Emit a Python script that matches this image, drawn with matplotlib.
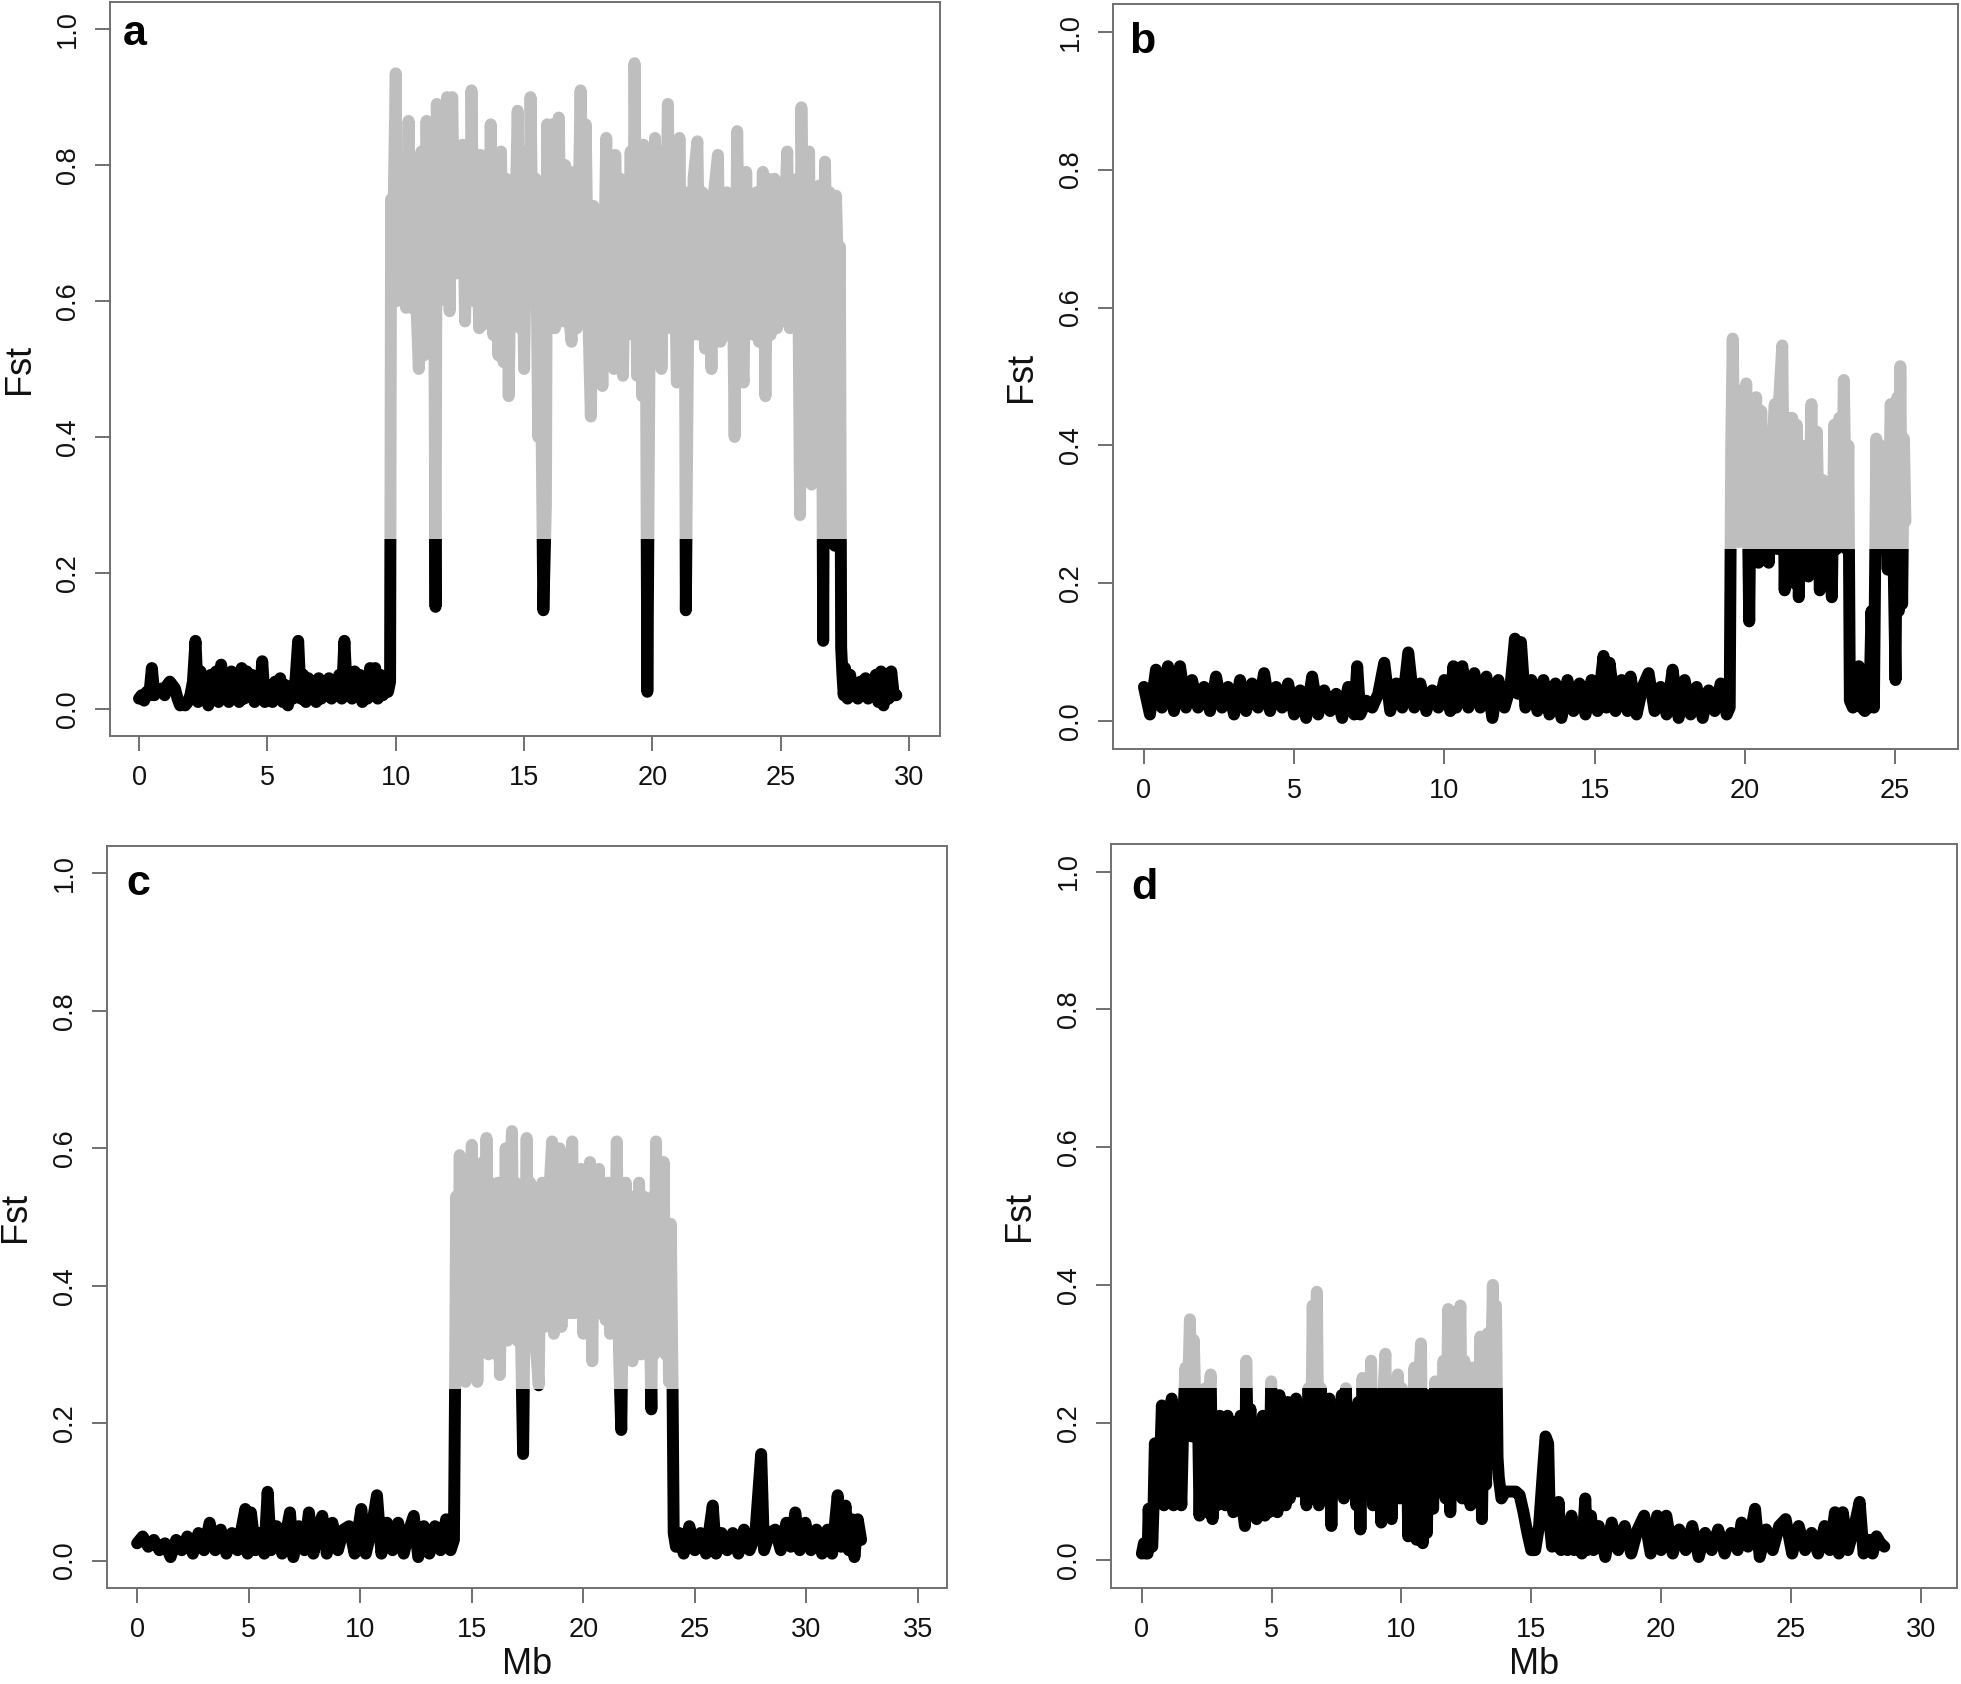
import matplotlib
matplotlib.use("Agg")
import matplotlib.pyplot as plt
from matplotlib.patches import Rectangle
from matplotlib.transforms import ScaledTranslation

plt.rcParams['font.family'] = ['Liberation Sans', 'DejaVu Sans']

# ---- panel a ----
a_low_mb = [0.0, 0.1, 0.2, 0.3, 0.4, 0.5, 0.6, 0.7, 0.8, 0.9,
            1.0, 1.1, 1.2, 1.3, 1.4, 1.5, 1.6, 1.7, 1.8, 1.9,
            2.0, 2.1, 2.2, 2.3, 2.4, 2.5, 2.6, 2.7, 2.8, 2.9,
            3.0, 3.1, 3.2, 3.3, 3.4, 3.5, 3.6, 3.7, 3.8, 3.9,
            4.0, 4.1, 4.2, 4.3, 4.4, 4.5, 4.6, 4.7, 4.8, 4.9,
            5.0, 5.1, 5.2, 5.3, 5.4, 5.5, 5.6, 5.7, 5.8, 5.9,
            6.0, 6.1, 6.2, 6.3, 6.4, 6.5, 6.6, 6.7, 6.8, 6.9,
            7.0, 7.1, 7.2, 7.3, 7.4, 7.5, 7.6, 7.7, 7.8, 7.9,
            8.0, 8.1, 8.2, 8.3, 8.4, 8.5, 8.6, 8.7, 8.8, 8.9,
            9.0, 9.1, 9.2, 9.3, 9.4, 9.5, 9.6, 9.7]
a_low_fst = [.015, .02, .012, .025, .02, .06, .02, .03, .025, .03,
             .02, .035, .04, .035, .03, .015, .005, .006, .005, .01,
             .02, .04, .10, .01, .055, .015, .045, .005, .05, .015,
             .055, .01, .065, .02, .04, .01, .055, .02, .035, .01,
             .06, .015, .055, .02, .05, .01, .04, .015, .07, .01,
             .035, .015, .01, .04, .02, .045, .01, .035, .005, .03,
             .015, .045, .10, .015, .05, .01, .045, .02, .04, .01,
             .045, .015, .04, .02, .045, .015, .04, .02, .05, .015,
             .10, .02, .045, .015, .055, .02, .05, .01, .04, .015,
             .06, .02, .06, .015, .05, .02, .04, .025]
a_high_mb = [9.78, 9.82, 9.86, 9.92, 10.0, 10.05, 10.12, 10.2, 10.3, 10.4,
             10.5, 10.6, 10.7, 10.8, 10.9, 11.0, 11.1, 11.2, 11.3, 11.4,
             11.5, 11.55, 11.6, 11.7, 11.8, 11.9, 12.0, 12.1, 12.2, 12.3,
             12.4, 12.5, 12.6, 12.7, 12.8, 12.9, 12.95, 13.05, 13.15, 13.25,
             13.3, 13.4, 13.5, 13.6, 13.7, 13.8, 13.9, 14.0, 14.1, 14.2,
             14.3, 14.4, 14.5, 14.6, 14.75, 14.85, 14.9, 15.0, 15.1, 15.2,
             15.25, 15.35, 15.45, 15.55, 15.6, 15.75, 15.85, 15.9, 16.0, 16.1,
             16.2, 16.35, 16.45, 16.5, 16.6, 16.7, 16.85, 16.95, 17.05, 17.2,
             17.3, 17.4, 17.5, 17.6, 17.7, 17.8, 17.9, 18.05, 18.2, 18.3,
             18.4, 18.5, 18.55, 18.65, 18.75, 18.85, 18.95, 19.05, 19.15, 19.25,
             19.3, 19.4, 19.5, 19.6, 19.65, 19.75, 19.8, 19.88, 19.95, 20.05,
             20.1, 20.2, 20.3, 20.35, 20.45, 20.5, 20.6, 20.7, 20.8, 20.95,
             21.05, 21.15, 21.25, 21.3, 21.38, 21.45, 21.55, 21.6, 21.75, 21.85,
             21.95, 22.05, 22.15, 22.3, 22.4, 22.55, 22.65, 22.8, 22.9, 23.0,
             23.1, 23.2, 23.3, 23.4, 23.55, 23.65, 23.75, 23.85, 23.95, 24.05,
             24.15, 24.3, 24.4, 24.5, 24.6, 24.75, 24.85, 24.95, 25.05, 25.15,
             25.25, 25.35, 25.45, 25.55, 25.65, 25.75, 25.8, 25.9, 26.0, 26.1,
             26.2, 26.3, 26.4, 26.5, 26.6, 26.65, 26.72, 26.8, 26.9, 27.0,
             27.1, 27.15, 27.25, 27.3, 27.35]
a_high_fst = [0.04, 0.75, 0.60, 0.74, 0.935, 0.60, 0.80, 0.62, 0.72, 0.59,
              0.865, 0.59, 0.78, 0.60, 0.50, 0.82, 0.52, 0.865, 0.58, 0.80,
              0.62, 0.15, 0.89, 0.60, 0.70, 0.66, 0.90, 0.585, 0.90, 0.64,
              0.82, 0.65, 0.83, 0.57, 0.80, 0.65, 0.91, 0.60, 0.75, 0.56,
              0.815, 0.565, 0.78, 0.58, 0.86, 0.55, 0.80, 0.52, 0.82, 0.51,
              0.78, 0.46, 0.74, 0.60, 0.88, 0.56, 0.82, 0.50, 0.77, 0.60,
              0.90, 0.62, 0.78, 0.40, 0.72, 0.145, 0.30, 0.86, 0.60, 0.86,
              0.56, 0.87, 0.62, 0.57, 0.80, 0.60, 0.54, 0.79, 0.56, 0.91,
              0.62, 0.86, 0.58, 0.43, 0.74, 0.52, 0.70, 0.475, 0.84, 0.55,
              0.72, 0.50, 0.815, 0.55, 0.78, 0.49, 0.73, 0.57, 0.82, 0.55,
              0.95, 0.49, 0.78, 0.46, 0.83, 0.50, 0.025, 0.49, 0.80, 0.55,
              0.84, 0.52, 0.82, 0.50, 0.78, 0.58, 0.89, 0.56, 0.82, 0.48,
              0.84, 0.50, 0.76, 0.145, 0.52, 0.76, 0.55, 0.78, 0.835, 0.55,
              0.76, 0.53, 0.72, 0.50, 0.76, 0.815, 0.54, 0.57, 0.76, 0.55,
              0.74, 0.40, 0.85, 0.55, 0.48, 0.79, 0.57, 0.74, 0.55, 0.76,
              0.54, 0.79, 0.46, 0.78, 0.55, 0.78, 0.56, 0.74, 0.57, 0.72,
              0.82, 0.56, 0.74, 0.60, 0.78, 0.285, 0.885, 0.56, 0.76, 0.82,
              0.33, 0.76, 0.56, 0.77, 0.55, 0.10, 0.805, 0.60, 0.76, 0.53,
              0.24, 0.755, 0.60, 0.68, 0.09]
a_tail_mb = [27.4, 27.45, 27.5, 27.6, 27.7, 27.8, 27.9, 28.0, 28.1, 28.2,
             28.3, 28.4, 28.5, 28.6, 28.7, 28.8, 28.9, 29.0, 29.1, 29.2,
             29.3, 29.4, 29.5]
a_tail_fst = [0.05, 0.02, 0.06, 0.015, 0.05, 0.02, 0.035, 0.015, 0.04, 0.02,
              0.045, 0.015, 0.04, 0.02, 0.05, 0.01, 0.055, 0.005, 0.05, 0.015,
              0.055, 0.02, 0.02]

# ---- panel b ----
b_low_mb = [0.0, 0.2, 0.4, 0.6, 0.8, 1.0, 1.2, 1.4, 1.6, 1.8,
            2.0, 2.2, 2.4, 2.6, 2.8, 3.0, 3.2, 3.4, 3.6, 3.8,
            4.0, 4.2, 4.4, 4.6, 4.8, 5.0, 5.2, 5.4, 5.6, 5.8,
            6.0, 6.2, 6.4, 6.6, 6.8, 7.0, 7.1, 7.2, 7.4, 7.6,
            7.8, 8.0, 8.2, 8.4, 8.6, 8.8, 9.0, 9.2, 9.4, 9.6,
            9.8, 10.0, 10.2, 10.3, 10.4, 10.6, 10.8, 11.0, 11.2, 11.4,
            11.6, 11.8, 12.0, 12.2, 12.35, 12.45, 12.55, 12.7, 12.9, 13.1,
            13.3, 13.5, 13.7, 13.9, 14.1, 14.3, 14.5, 14.7, 14.9, 15.1,
            15.3, 15.4, 15.5, 15.7, 15.9, 16.1, 16.2, 16.4, 16.6, 16.8,
            17.0, 17.2, 17.4, 17.6, 17.8, 18.0, 18.2, 18.4, 18.6, 18.8,
            19.0, 19.2, 19.4]
b_low_fst = [.05, .01, .075, .02, .08, .015, .08, .02, .06, .02,
             .05, .015, .065, .02, .05, .01, .06, .015, .055, .02,
             .07, .015, .05, .02, .055, .01, .045, .005, .065, .01,
             .045, .015, .04, .005, .05, .01, .08, .01, .03, .02,
             .04, .085, .015, .055, .02, .10, .02, .055, .015, .045,
             .02, .06, .015, .08, .02, .08, .02, .07, .02, .065,
             .005, .06, .02, .05, .12, .04, .115, .02, .06, .015,
             .06, .01, .055, .005, .06, .015, .055, .01, .06, .015,
             .095, .02, .085, .015, .06, .015, .065, .01, .05, .07,
             .015, .05, .01, .075, .005, .06, .01, .05, .005, .045,
             .015, .055, .01]
b_high_mb = [19.5, 19.55, 19.6, 19.68, 19.75, 19.82, 19.9, 19.97, 20.05, 20.15,
             20.22, 20.3, 20.38, 20.46, 20.55, 20.62, 20.7, 20.8, 20.9, 21.0,
             21.07, 21.15, 21.25, 21.33, 21.42, 21.5, 21.58, 21.66, 21.73, 21.8,
             21.88, 21.96, 22.04, 22.12, 22.22, 22.3, 22.4, 22.5, 22.6, 22.7,
             22.8, 22.9, 22.98, 23.06, 23.15, 23.22, 23.3, 23.38, 23.45, 23.5,
             23.6, 23.7, 23.8, 23.9, 24.0, 24.1, 24.15, 24.22, 24.3, 24.38,
             24.45, 24.52, 24.6, 24.68, 24.76, 24.86, 24.95, 25.02, 25.08, 25.13,
             25.18, 25.24, 25.3, 25.35]
b_high_fst = [0.02, 0.40, 0.555, 0.30, 0.48, 0.26, 0.47, 0.27, 0.49, 0.145,
              0.45, 0.25, 0.47, 0.23, 0.45, 0.25, 0.38, 0.23, 0.38, 0.46,
              0.25, 0.47, 0.545, 0.19, 0.44, 0.26, 0.44, 0.20, 0.43, 0.18,
              0.36, 0.23, 0.40, 0.21, 0.46, 0.22, 0.42, 0.19, 0.35, 0.20,
              0.34, 0.18, 0.43, 0.25, 0.44, 0.26, 0.495, 0.25, 0.40, 0.03,
              0.02, 0.03, 0.08, 0.02, 0.015, 0.07, 0.02, 0.16, 0.02, 0.41,
              0.26, 0.40, 0.25, 0.35, 0.22, 0.46, 0.25, 0.06, 0.47, 0.16,
              0.515, 0.17, 0.41, 0.29]

# ---- panel c ----
c_low_mb = [0.0, 0.25, 0.5, 0.75, 1.0, 1.25, 1.5, 1.75, 2.0, 2.25,
            2.5, 2.75, 3.0, 3.25, 3.5, 3.75, 4.0, 4.25, 4.5, 4.85,
            4.95, 5.1, 5.3, 5.5, 5.7, 5.85, 6.0, 6.25, 6.5, 6.85,
            7.0, 7.25, 7.5, 7.7, 7.9, 8.1, 8.3, 8.5, 8.75, 9.0,
            9.25, 9.5, 9.75, 10.05, 10.25, 10.5, 10.75, 10.95, 11.2, 11.45,
            11.7, 11.95, 12.2, 12.4, 12.6, 12.85, 13.1, 13.35, 13.6, 13.85,
            14.05, 14.2]
c_low_fst = [.025, .035, .02, .03, .015, .025, .005, .03, .015, .035,
             .01, .04, .015, .055, .015, .045, .01, .04, .015, .075,
             .01, .07, .015, .04, .01, .10, .015, .05, .01, .07,
             .005, .05, .015, .07, .01, .045, .065, .01, .055, .015,
             .045, .05, .01, .075, .01, .045, .095, .01, .055, .015,
             .055, .01, .045, .065, .005, .05, .01, .05, .015, .06,
             .015, .03]
c_high_mb = [14.25, 14.3, 14.38, 14.46, 14.55, 14.63, 14.72, 14.8, 14.9, 15.0,
             15.08, 15.16, 15.25, 15.34, 15.42, 15.5, 15.58, 15.66, 15.75, 15.84,
             15.92, 16.0, 16.1, 16.18, 16.26, 16.35, 16.44, 16.52, 16.6, 16.7,
             16.8, 16.88, 16.96, 17.05, 17.14, 17.22, 17.3, 17.38, 17.46, 17.54,
             17.62, 17.7, 17.8, 17.9, 18.0, 18.08, 18.16, 18.25, 18.34, 18.42,
             18.5, 18.6, 18.68, 18.76, 18.85, 18.94, 19.02, 19.1, 19.2, 19.3,
             19.4, 19.5, 19.6, 19.7, 19.8, 19.9, 20.0, 20.1, 20.2, 20.3,
             20.4, 20.5, 20.6, 20.7, 20.8, 20.9, 21.0, 21.1, 21.2, 21.3,
             21.4, 21.5, 21.6, 21.7, 21.8, 21.9, 22.0, 22.1, 22.2, 22.3,
             22.4, 22.5, 22.6, 22.7, 22.8, 22.9, 23.05, 23.12, 23.18, 23.26,
             23.32, 23.4, 23.5, 23.6, 23.68, 23.76, 23.84, 23.92, 24.0, 24.05]
c_high_fst = [0.25, 0.53, 0.30, 0.59, 0.32, 0.50, 0.26, 0.55, 0.33, 0.605,
              0.30, 0.55, 0.26, 0.52, 0.35, 0.58, 0.32, 0.615, 0.30, 0.55,
              0.34, 0.52, 0.30, 0.55, 0.27, 0.50, 0.33, 0.60, 0.32, 0.52,
              0.625, 0.33, 0.55, 0.32, 0.50, 0.30, 0.155, 0.40, 0.615, 0.31,
              0.55, 0.32, 0.50, 0.30, 0.255, 0.48, 0.55, 0.34, 0.52, 0.38,
              0.55, 0.61, 0.33, 0.58, 0.35, 0.60, 0.34, 0.55, 0.41, 0.59,
              0.36, 0.61, 0.36, 0.56, 0.40, 0.57, 0.33, 0.55, 0.38, 0.58,
              0.29, 0.55, 0.36, 0.57, 0.38, 0.50, 0.35, 0.55, 0.33, 0.52,
              0.38, 0.61, 0.30, 0.19, 0.45, 0.55, 0.33, 0.50, 0.29, 0.53,
              0.35, 0.55, 0.30, 0.53, 0.32, 0.50, 0.22, 0.53, 0.30, 0.61,
              0.32, 0.58, 0.35, 0.58, 0.30, 0.49, 0.26, 0.49, 0.25, 0.04]
c_tail_mb = [24.15, 24.3, 24.5, 24.75, 25.0, 25.25, 25.5, 25.8, 25.95, 26.2,
             26.45, 26.7, 26.95, 27.2, 27.45, 27.7, 27.97, 28.1, 28.35, 28.6,
             28.85, 29.1, 29.3, 29.5, 29.7, 29.95, 30.2, 30.45, 30.7, 30.95,
             31.15, 31.4, 31.55, 31.75, 31.9, 32.05, 32.15, 32.3, 32.45]
c_tail_fst = [.02, .04, .01, .05, .015, .04, .01, .08, .01, .04,
              .015, .04, .01, .045, .015, .035, .155, .015, .04, .045,
              .015, .055, .02, .07, .015, .055, .015, .045, .01, .045,
              .01, .095, .02, .08, .015, .06, .005, .06, .03]

# ---- panel d ----
d_head_mb = [0.0, 0.08, 0.15, 0.22, 0.26, 0.32, 0.4, 0.45, 0.5]
d_head_fst = [.01, .025, .01, .01, .075, .025, .02, .08, .17]
d_mid_mb = [0.55, 0.62, 0.7, 0.77, 0.85, 0.92, 1.0, 1.08, 1.15, 1.22,
            1.3, 1.38, 1.45, 1.52, 1.6, 1.68, 1.75, 1.85, 1.92, 2.0,
            2.08, 2.15, 2.22, 2.3, 2.38, 2.45, 2.52, 2.6, 2.65, 2.72,
            2.8, 2.9, 3.0, 3.08, 3.15, 3.22, 3.3, 3.38, 3.45, 3.52,
            3.6, 3.7, 3.8, 3.9, 3.97, 4.02, 4.1, 4.18, 4.26, 4.34,
            4.42, 4.5, 4.58, 4.66, 4.74, 4.82, 4.9, 4.98, 5.06, 5.14,
            5.22, 5.3, 5.38, 5.46, 5.54, 5.62, 5.7, 5.78, 5.86, 5.94,
            6.02, 6.1, 6.18, 6.26, 6.34, 6.42, 6.5, 6.58, 6.66, 6.74,
            6.82, 6.9, 6.98, 7.06, 7.14, 7.22, 7.3, 7.38, 7.46, 7.54,
            7.62, 7.7, 7.78, 7.86, 7.94, 8.02, 8.1, 8.18, 8.26, 8.34,
            8.42, 8.5, 8.58, 8.66, 8.74, 8.83, 8.9, 8.98, 9.06, 9.14,
            9.22, 9.3, 9.38, 9.46, 9.54, 9.62, 9.7, 9.78, 9.86, 9.94,
            10.02, 10.1, 10.18, 10.26, 10.34, 10.42, 10.5, 10.58, 10.66, 10.75,
            10.82, 10.9, 10.98, 11.06, 11.14, 11.22, 11.3, 11.38, 11.46, 11.54,
            11.62, 11.7, 11.8, 11.88, 11.96, 12.03, 12.1, 12.18, 12.27, 12.34,
            12.42, 12.5, 12.58, 12.66, 12.74, 12.82, 12.9, 12.98, 13.04, 13.1,
            13.18, 13.26, 13.33, 13.4, 13.47, 13.52, 13.58, 13.64, 13.7]
d_mid_fst = [.13, .17, .14, .225, .08, .22, .12, .20, .235, .08,
             .20, .10, .135, .08, .21, .28, .20, .35, .18, .32,
             .20, .24, .065, .21, .10, .25, .07, .24, .27, .06,
             .20, .08, .21, .12, .20, .08, .21, .10, .18, .07,
             .20, .10, .21, .07, .05, .29, .12, .22, .08, .18,
             .06, .20, .10, .21, .065, .20, .07, .26, .10, .23,
             .07, .24, .11, .22, .08, .23, .09, .21, .12, .235,
             .10, .22, .13, .21, .08, .25, .09, .37, .12, .39,
             .08, .25, .10, .20, .12, .235, .05, .22, .10, .20,
             .12, .24, .09, .25, .13, .21, .10, .20, .08, .23,
             .045, .265, .10, .25, .12, .29, .08, .24, .12, .22,
             .055, .24, .30, .10, .24, .06, .22, .11, .27, .09,
             .25, .12, .24, .035, .22, .04, .28, .03, .24, .315,
             .025, .22, .04, .24, .12, .075, .26, .10, .26, .13,
             .29, .09, .365, .07, .30, .36, .10, .30, .37, .09,
             .29, .12, .27, .08, .28, .12, .27, .09, .325, .06,
             .27, .11, .33, .14, .30, .40, .19, .37, .15]
d_tail_mb = [13.75, 13.85, 14.0, 14.2, 14.4, 14.55, 14.7, 14.85, 15.0, 15.15,
             15.3, 15.45, 15.55, 15.65, 15.72, 15.8, 15.9, 16.0, 16.05, 16.15,
             16.3, 16.4, 16.55, 16.65, 16.8, 16.95, 17.08, 17.15, 17.3, 17.4,
             17.6, 17.85, 18.1, 18.35, 18.6, 18.85, 19.1, 19.35, 19.6, 19.85,
             20.0, 20.2, 20.45, 20.7, 20.95, 21.2, 21.45, 21.7, 21.95, 22.2,
             22.45, 22.7, 22.95, 23.1, 23.35, 23.62, 23.8, 24.05, 24.3, 24.55,
             24.8, 25.05, 25.3, 25.55, 25.8, 26.05, 26.3, 26.5, 26.7, 26.85,
             27.0, 27.2, 27.45, 27.65, 27.8, 28.0, 28.15, 28.3, 28.45, 28.6]
d_tail_fst = [.12, .09, .10, .10, .10, .095, .07, .04, .015, .015,
              .05, .13, .18, .17, .05, .02, .06, .02, .085, .015,
              .05, .015, .065, .015, .03, .01, .09, .015, .065, .015,
              .05, .005, .055, .015, .05, .01, .045, .065, .01, .065,
              .015, .065, .01, .045, .015, .05, .005, .04, .015, .045,
              .01, .04, .015, .055, .02, .075, .005, .045, .015, .05,
              .06, .01, .05, .015, .04, .01, .05, .015, .07, .01,
              .07, .015, .05, .085, .01, .03, .01, .035, .025, .02]

a_xticks = [0, 5, 10, 15, 20, 25, 30]
b_xticks = [0, 5, 10, 15, 20, 25]
c_xticks = [0, 5, 10, 15, 20, 25, 30, 35]
d_xticks = [0, 5, 10, 15, 20, 25, 30]
y_ticks = [0.0, 0.2, 0.4, 0.6, 0.8, 1.0]
y_tick_labels = ['0.0', '0.2', '0.4', '0.6', '0.8', '1.0']
threshold = 0.25

W, H = 1961, 1684
fig = plt.figure(figsize=(W / 100, H / 100), dpi=100)

# (letter, mb, fst, ticks, xlim, box in px [left, top, right, bottom], letter offset px, Mb label?)
panels = [
    ('a', a_low_mb + a_high_mb + a_tail_mb, a_low_fst + a_high_fst + a_tail_fst,
     a_xticks, (-1.13, 31.2), (110, 2, 940, 736), (13, 43), False),
    ('b', b_low_mb + b_high_mb, b_low_fst + b_high_fst,
     b_xticks, (-1.03, 27.1), (1113, 4, 1958, 749), (16, 49), False),
    ('c', c_low_mb + c_high_mb + c_tail_mb, c_low_fst + c_high_fst + c_tail_fst,
     c_xticks, (-1.35, 36.3), (107, 846, 947, 1588), (19, 49), True),
    ('d', d_head_mb + d_mid_mb + d_tail_mb, d_head_fst + d_mid_fst + d_tail_fst,
     d_xticks, (-1.19, 31.4), (1111, 844, 1957, 1588), (20, 55), True),
]

frame_col = '#707070'
for letter, mb, fst, xticks, xlim, box, off, mb_label in panels:
    l, t, r, b = box
    ax = fig.add_axes([l / W, 1 - b / H, (r - l) / W, (b - t) / H])
    ax.set_xlim(*xlim)
    ax.set_ylim(-0.04, 1.04)

    # same trace twice: black below the threshold, grey above it
    low_clip = Rectangle((xlim[0], -1), xlim[1] - xlim[0], 1 + threshold,
                         transform=ax.transData)
    high_clip = Rectangle((xlim[0], threshold), xlim[1] - xlim[0], 2,
                          transform=ax.transData)
    line_k, = ax.plot(mb, fst, color='black', lw=8.6,
                      solid_joinstyle='round', solid_capstyle='round')
    line_k.set_clip_path(low_clip)
    line_g, = ax.plot(mb, fst, color='#bebebe', lw=8.6,
                      solid_joinstyle='round', solid_capstyle='round')
    line_g.set_clip_path(high_clip)

    ax.set_xticks(xticks)
    ax.set_yticks(y_ticks, labels=y_tick_labels, rotation=90, va='center')
    for s in ax.spines.values():
        s.set_color(frame_col)
        s.set_linewidth(1.4)
    ax.tick_params(direction='out', length=11, width=1.4, color=frame_col,
                   labelsize=19.5, pad=10, labelcolor='#111111')

    ax.set_ylabel('Fst', fontsize=26, va='center', color='#111111')
    ax.yaxis.set_label_coords(0, 0.5, transform=ax.transAxes +
                              ScaledTranslation(-0.91, 0, fig.dpi_scale_trans))
    if mb_label:
        ax.set_xlabel('Mb', fontsize=26, va='center', color='#111111')
        ax.xaxis.set_label_coords(0.5, 0, transform=ax.transAxes +
                                  ScaledTranslation(0, -0.77, fig.dpi_scale_trans))

    ax.text(0, 1, letter, fontsize=31, fontweight='bold', ha='left', va='baseline',
            transform=ax.transAxes + ScaledTranslation(off[0] / 100, -off[1] / 100,
                                                       fig.dpi_scale_trans))

fig.savefig('out.png', dpi=100)
